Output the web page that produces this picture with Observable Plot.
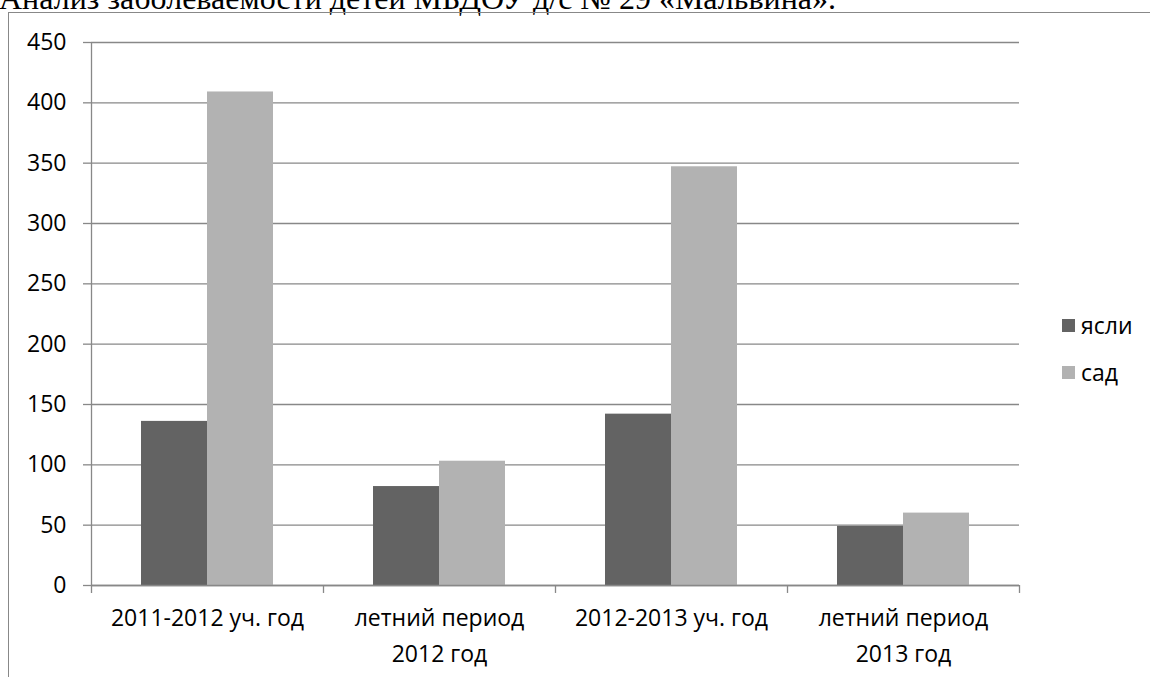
<!DOCTYPE html>
<html>
<head>
<meta charset="utf-8">
<script src="https://cdn.jsdelivr.net/npm/d3@7"></script>
<script src="https://cdn.jsdelivr.net/npm/@observablehq/plot@0.6"></script>
<style>
  html, body { margin: 0; padding: 0; background: #fff; overflow: hidden; }
  #wrap { position: relative; width: 1150px; height: 677px; overflow: hidden; }
  #title { position: absolute; left: -1px; top: -18px; font-family: "Liberation Serif", "Times New Roman", serif; font-size: 32px; line-height: 1; white-space: nowrap; color: #000; }
  #border { position: absolute; left: 8px; top: 12px; width: 1200px; height: 800px; border-top: 1.5px solid #888; border-left: 1.5px solid #888; }
  #chart { position: absolute; left: 0; top: 0; }
  .leg { position: absolute; font-family: "Open Sans", sans-serif; font-size: 23px; line-height: 30px; color: #000; display: flex; align-items: center; }
  .leg span.sw { display: inline-block; width: 13px; height: 13px; margin-right: 6px; }
</style>
</head>
<body>
<div id="wrap">
  <div id="title">Анализ заболеваемости детей МБДОУ д/с № 29 «Мальвина».</div>
  <div id="border"></div>
  <div id="chart"></div>
  <div id="legend"></div>
</div>
<script>
const categories = ["2011-2012 уч. год", "летний период\n2012 год", "2012-2013 уч. год", "летний период\n2013 год"];
const series = ["ясли", "сад"];
const yasli = [136, 82, 142, 49];
const sad = [409, 103, 347, 60];
const yTicks = [0, 50, 100, 150, 200, 250, 300, 350, 400, 450];
const colors = ["#636363", "#b2b2b2"];

const rowsYasli = categories.map((c, i) => ({category: c, series: series[0], value: yasli[i]}));
const rowsSad = categories.map((c, i) => ({category: c, series: series[1], value: sad[i]}));

const font = "'Open Sans', sans-serif";
const gridColor = "#888";

const plot = Plot.plot({
  width: 1150,
  height: 677,
  marginLeft: 91,
  marginRight: 131,
  marginTop: 42,
  marginBottom: 92,
  style: {fontFamily: font, fontSize: "23px", color: "#000", background: "transparent"},
  x: {domain: categories, padding: 0, axis: null},
  y: {domain: [0, 450], ticks: yTicks, axis: null},
  marks: [
    Plot.gridY(yTicks, {stroke: gridColor, strokeOpacity: 1, strokeWidth: 1.3}),
    Plot.axisY(yTicks, {label: null, tickSize: 8, tickPadding: 17, stroke: gridColor, strokeWidth: 1.3, fontSize: 23, fill: "#000", tickFormat: d => String(d)}),
    Plot.barY(rowsYasli, {x: "category", y: "value", fill: colors[0], insetLeft: 50, insetRight: 116}),
    Plot.barY(rowsSad, {x: "category", y: "value", fill: colors[1], insetLeft: 116, insetRight: 50}),
    Plot.ruleY([0], {stroke: gridColor, strokeWidth: 1.3}),
    Plot.ruleX([categories[0]], {dx: -116, y1: -6.6, y2: 450, stroke: gridColor, strokeWidth: 1.3}),
    Plot.ruleX(categories.slice(1), {dx: -116, y1: -6.6, y2: 0, stroke: gridColor, strokeWidth: 1.3}),
    Plot.ruleX([categories[categories.length - 1]], {dx: 116, y1: -6.6, y2: 0, stroke: gridColor, strokeWidth: 1.3}),
    Plot.text(categories, {x: d => d, y: 0, dy: 15, lineAnchor: "top", lineHeight: 1.57, fontSize: 23, fill: "#000", text: d => d})
  ]
});
document.getElementById("chart").appendChild(plot);

const legend = document.getElementById("legend");
series.forEach((s, i) => {
  const d = document.createElement("div");
  d.className = "leg";
  d.style.left = "1062px";
  d.style.top = (310 + i * 47) + "px";
  d.innerHTML = `<span class="sw" style="background:${colors[i]}"></span><span>${s}</span>`;
  legend.appendChild(d);
});
</script>
</body>
</html>
